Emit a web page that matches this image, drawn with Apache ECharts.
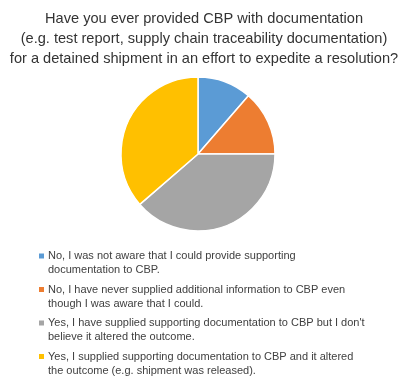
<!DOCTYPE html>
<html>
<head>
<meta charset="utf-8">
<script src="https://cdn.jsdelivr.net/npm/echarts@6/dist/echarts.min.js"></script>
<style>
  html, body { margin: 0; padding: 0; background: #fff; }
  #chart { width: 408px; height: 382px; }
</style>
</head>
<body>
<div id="chart"></div>
<script>
var titleText = 'Have you ever provided CBP with documentation\n(e.g. test report, supply chain traceability documentation)\nfor a detained shipment in an effort to expedite a resolution?';

var categories = [
    'No, I was not aware that I could provide supporting\ndocumentation to CBP.',
    'No, I have never supplied additional information to CBP even\nthough I was aware that I could.',
    'Yes, I have supplied supporting documentation to CBP but I don\'t\nbelieve it altered the outcome.',
    'Yes, I supplied supporting documentation to CBP and it altered\nthe outcome (e.g. shipment was released).'
];
var values = [5, 6, 17, 16];
var colors = ['#5B9BD5', '#ED7D31', '#A5A5A5', '#FFC000'];

var pieData = [];
for (var i = 0; i < categories.length; i++) {
    pieData.push({ name: categories[i], value: values[i] });
}

// legend marker squares sit on the first line, so draw them in rich text
var legendRich = { sp: { width: 9 }, g: { width: 4 } };
for (var i = 0; i < colors.length; i++) {
    legendRich['m' + i] = { width: 5, height: 5, backgroundColor: colors[i] };
}

var chart = echarts.init(document.getElementById('chart'));
chart.setOption({
    animation: false,
    color: colors,
    title: {
        text: titleText,
        left: 'center',
        top: 4,
        textStyle: {
            fontFamily: 'Liberation Sans',
            fontSize: 14.6,
            fontWeight: 'normal',
            color: '#333333',
            lineHeight: 20
        }
    },
    legend: {
        orient: 'vertical',
        left: 28,
        top: 244,
        height: 140,
        itemWidth: 0,
        itemHeight: 0,
        itemGap: 5.5,
        selectedMode: false,
        formatter: function (name) {
            var idx = categories.indexOf(name);
            return '{m' + idx + '|}{g|}' + name.replace('\n', '\n{sp|}');
        },
        textStyle: {
            fontFamily: 'Liberation Sans',
            fontSize: 11,
            color: '#404040',
            lineHeight: 14,
            rich: legendRich
        }
    },
    series: [
        {
            type: 'pie',
            center: [198, 154],
            radius: 77,
            startAngle: 90,
            clockwise: true,
            label: { show: false },
            labelLine: { show: false },
            itemStyle: { borderColor: '#ffffff', borderWidth: 1.5 },
            emphasis: { disabled: true },
            data: pieData
        }
    ]
});
</script>
</body>
</html>
